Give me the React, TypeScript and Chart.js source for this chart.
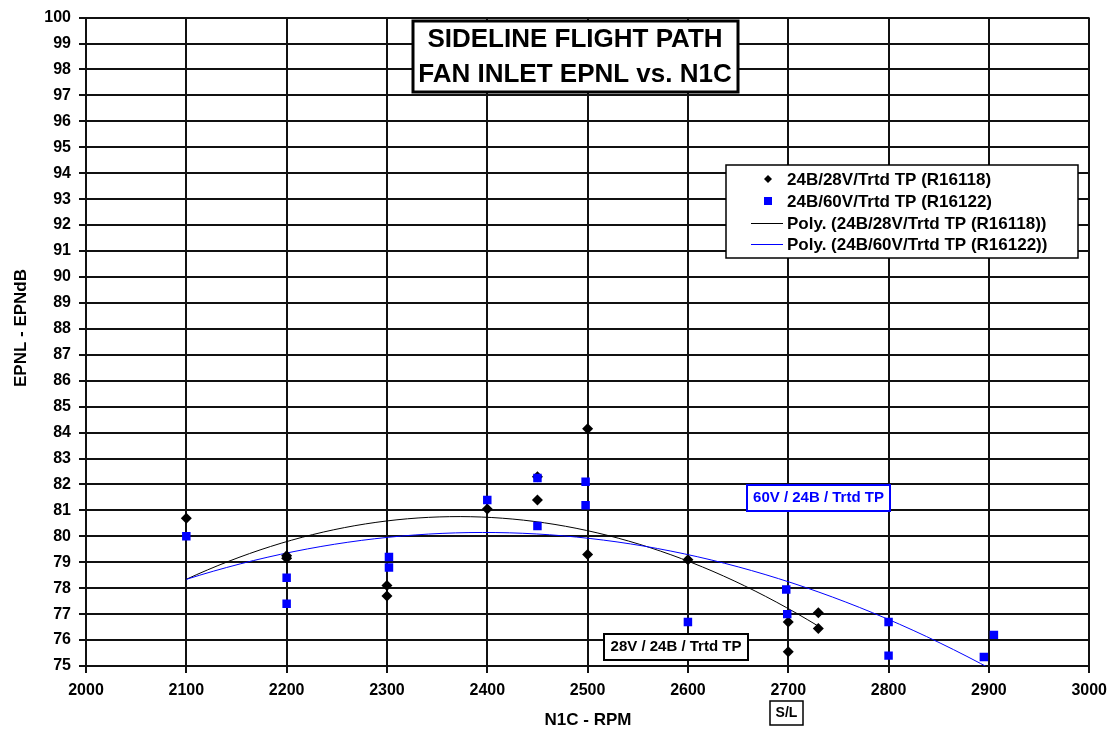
import React, { useEffect, useRef } from "react";
import { Chart, registerables } from "chart.js";

Chart.register(...registerables);

// ---- data ----
const rpm28V = [2100, 2200, 2200, 2300, 2300, 2400, 2450, 2450, 2500, 2500, 2600, 2700, 2700, 2730, 2730];
const epnl28V = [80.7, 79.25, 79.15, 78.1, 77.7, 81.05, 82.3, 81.4, 84.15, 79.3, 79.1, 76.7, 75.55, 77.05, 76.45];
const rpm60V = [2100, 2200, 2200, 2302, 2302, 2400, 2450, 2450, 2498, 2498, 2600, 2698, 2699, 2800, 2800, 2895, 2905];
const epnl60V = [80.0, 78.4, 77.4, 79.2, 78.8, 81.4, 82.25, 80.4, 82.1, 81.2, 76.7, 77.95, 77.0, 76.7, 75.4, 75.35, 76.2];

const seriesNames = [
  "24B/28V/Trtd TP (R16118)",
  "24B/60V/Trtd TP (R16122)",
  "Poly. (24B/28V/Trtd TP (R16118))",
  "Poly. (24B/60V/Trtd TP (R16122))",
];
const titleLines = ["SIDELINE FLIGHT PATH", "FAN INLET EPNL vs. N1C"];
const label60V = "60V / 24B / Trtd TP";
const label28V = "28V / 24B / Trtd TP";
const labelSL = "S/L";
const xTitle = "N1C - RPM";
const yTitle = "EPNL - EPNdB";
const xMin = 2000, xMax = 3000, xStep = 100;
const yMin = 75, yMax = 100, yStep = 1;

// quadratic least squares fit (Excel "Poly." order 2 trendline)
function polyFit2(xs: number[], ys: number[]) {
  const c = 2500;
  const s = [0, 0, 0, 0, 0];
  const t = [0, 0, 0];
  for (let i = 0; i < xs.length; i++) {
    const x = (xs[i] - c) / 100;
    let p = 1;
    for (let k = 0; k < 5; k++) { s[k] += p; p *= x; }
    t[0] += ys[i]; t[1] += ys[i] * x; t[2] += ys[i] * x * x;
  }
  const A = [
    [s[0], s[1], s[2], t[0]],
    [s[1], s[2], s[3], t[1]],
    [s[2], s[3], s[4], t[2]],
  ];
  for (let i = 0; i < 3; i++) {
    for (let j = i + 1; j < 3; j++) {
      const f = A[j][i] / A[i][i];
      for (let k = i; k < 4; k++) A[j][k] -= f * A[i][k];
    }
  }
  const r = [0, 0, 0];
  for (let i = 2; i >= 0; i--) {
    let v = A[i][3];
    for (let k = i + 1; k < 3; k++) v -= A[i][k] * r[k];
    r[i] = v / A[i][i];
  }
  return (xv: number) => {
    const x = (xv - c) / 100;
    return r[0] + r[1] * x + r[2] * x * x;
  };
}

function trend(xs: number[], ys: number[]) {
  const f = polyFit2(xs, ys);
  const lo = Math.min(...xs), hi = Math.max(...xs);
  const pts = [];
  const n = 60;
  for (let i = 0; i <= n; i++) {
    const x = lo + ((hi - lo) * i) / n;
    pts.push({ x, y: f(x) });
  }
  return pts;
}

const FONT = "'Liberation Sans', Arial, sans-serif";

function box(ctx: CanvasRenderingContext2D, x: number, y: number, w: number, h: number, lw: number, color: string) {
  ctx.save();
  ctx.fillStyle = "#fff";
  ctx.fillRect(x, y, w, h);
  ctx.strokeStyle = color;
  ctx.lineWidth = lw;
  ctx.strokeRect(x, y, w, h);
  ctx.restore();
}

const overlay = {
  id: "overlay",
  afterDraw(chart: any) {
    const ctx: CanvasRenderingContext2D = chart.ctx;
    ctx.save();
    ctx.textBaseline = "middle";
    // title box
    box(ctx, 413, 21, 325, 71, 3, "#000");
    ctx.fillStyle = "#000";
    ctx.textAlign = "center";
    ctx.font = `bold 26px ${FONT}`;
    ctx.fillText(titleLines[0], 575, 40);
    ctx.fillText(titleLines[1], 575, 75);

    // legend
    box(ctx, 726, 165, 352, 93, 1.5, "#000");
    ctx.font = `bold 17px ${FONT}`;
    ctx.textAlign = "left";
    const ys = [179, 201, 223, 244];
    ys.forEach((y, i) => ctx.fillText(seriesNames[i], 787, y + 1));
    // markers
    ctx.fillStyle = "#000";
    ctx.beginPath();
    ctx.moveTo(768, ys[0] - 4); ctx.lineTo(772, ys[0]); ctx.lineTo(768, ys[0] + 4); ctx.lineTo(764, ys[0]);
    ctx.closePath(); ctx.fill();
    ctx.fillStyle = "#0000ff";
    ctx.fillRect(764, ys[1] - 4, 8, 8);
    ctx.lineWidth = 1;
    ctx.strokeStyle = "#000";
    ctx.beginPath(); ctx.moveTo(751, ys[2] + 0.5); ctx.lineTo(783, ys[2] + 0.5); ctx.stroke();
    ctx.strokeStyle = "#0000ff";
    ctx.beginPath(); ctx.moveTo(751, ys[3] + 0.5); ctx.lineTo(783, ys[3] + 0.5); ctx.stroke();

    // annotations
    box(ctx, 747, 485, 143, 26, 2, "#0000ff");
    ctx.fillStyle = "#0000ff";
    ctx.textAlign = "center";
    ctx.font = `bold 15px ${FONT}`;
    ctx.fillText(label60V, 818.5, 498);

    box(ctx, 604, 634, 144, 26, 2, "#000");
    ctx.fillStyle = "#000";
    ctx.fillText(label28V, 676, 647);

    box(ctx, 770, 701, 33, 24, 1.5, "#000");
    ctx.font = `bold 14px ${FONT}`;
    ctx.fillText(labelSL, 786.5, 713);

    // axis titles
    ctx.font = `bold 17px ${FONT}`;
    ctx.fillText(xTitle, 588, 720);
    ctx.translate(21, 328);
    ctx.rotate(-Math.PI / 2);
    ctx.fillText(yTitle, 0, 0);
    ctx.restore();
  },
};

export default function App() {
  const ref = useRef<HTMLCanvasElement>(null);
  useEffect(() => {
    document.body.style.margin = "0";
    const canvas = ref.current!;
    const chart = new Chart(canvas, {
      type: "scatter",
      data: {
        datasets: [
          {
            label: seriesNames[0],
            data: rpm28V.map((x, i) => ({ x, y: epnl28V[i] })),
            pointStyle: "rectRot",
            pointRadius: 5.5,
            backgroundColor: "#000",
            borderColor: "#000",
            borderWidth: 0,
            order: 1,
          },
          {
            label: seriesNames[1],
            data: rpm60V.map((x, i) => ({ x, y: epnl60V[i] })),
            pointStyle: "rect",
            pointRadius: 6,
            backgroundColor: "#0000ff",
            borderColor: "#0000ff",
            borderWidth: 0,
            order: 0,
          },
          {
            label: seriesNames[2],
            type: "line",
            data: trend(rpm28V, epnl28V),
            borderColor: "#000",
            borderWidth: 1,
            pointRadius: 0,
            showLine: true,
            fill: false,
            order: 3,
          },
          {
            label: seriesNames[3],
            type: "line",
            data: trend(rpm60V, epnl60V),
            borderColor: "#0000ff",
            borderWidth: 1,
            pointRadius: 0,
            showLine: true,
            fill: false,
            order: 2,
          },
        ] as any,
      },
      options: {
        responsive: false,
        animation: false,
        layout: { padding: { top: 14, right: 22, left: 0, bottom: 0 } },
        plugins: { legend: { display: false }, tooltip: { enabled: false } },
        scales: {
          x: {
            type: "linear",
            min: xMin,
            max: xMax,
            ticks: {
              stepSize: xStep,
              color: "#000",
              font: { family: FONT, size: 16, weight: "bold" },
              padding: 8,
              maxRotation: 0,
              callback: (v: any) => String(v),
            },
            grid: { color: "#111", lineWidth: 2, tickLength: 7, tickColor: "#111" },
            border: { color: "#111", width: 2 },
            afterFit: (s: any) => { s.height = 70; },
          },
          y: {
            type: "linear",
            min: yMin,
            max: yMax,
            ticks: { stepSize: yStep, color: "#000", font: { family: FONT, size: 16, weight: "bold" }, padding: 8 },
            grid: { color: "#111", lineWidth: 2, tickLength: 7, tickColor: "#111" },
            border: { color: "#111", width: 2 },
            afterFit: (s: any) => { s.width = 86; },
          },
        },
      },
      plugins: [overlay],
    });
    return () => chart.destroy();
  }, []);
  return (
    <div style={{ position: "absolute", left: 0, top: 0, width: 1115, height: 736, background: "#fff" }}>
      <canvas ref={ref} width={1115} height={736} />
    </div>
  );
}
